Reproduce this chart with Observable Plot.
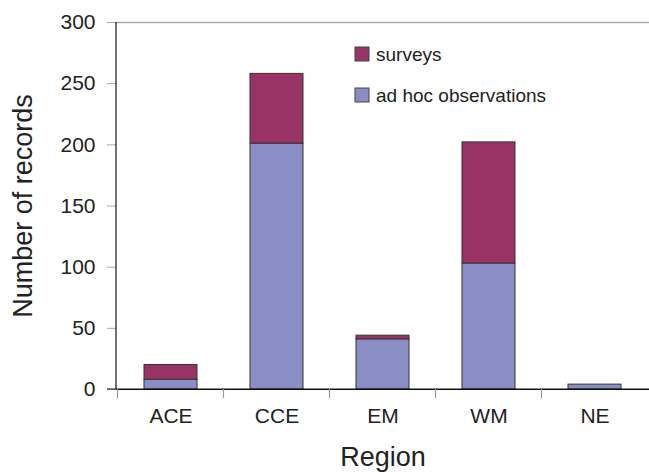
<!DOCTYPE html>
<html>
<head>
<meta charset="utf-8">
<script src="https://cdn.jsdelivr.net/npm/d3@7"></script>
<script src="https://cdn.jsdelivr.net/npm/@observablehq/plot@0.6"></script>
<style>
  html, body { margin: 0; padding: 0; background: #fff; }
  #chart svg { display: block; }
</style>
</head>
<body>
<div id="chart"></div>
<script>
const regions = ["ACE", "CCE", "EM", "WM", "NE"];
const series = ["ad hoc observations", "surveys"];
const adHoc = [8, 201, 41, 103, 4];
const surveys = [12, 57, 3, 99, 0];
const yTicks = [0, 50, 100, 150, 200, 250, 300];
const colors = ["#8b8ec5", "#993366"];
const xTitle = "Region";
const yTitle = "Number of records";

const data = [];
regions.forEach((r, i) => {
  data.push({region: r, series: series[0], value: adHoc[i]});
  if (surveys[i] > 0) data.push({region: r, series: series[1], value: surveys[i]});
});

const font = "Liberation Sans, Arial, Helvetica, sans-serif";
const W = 649, H = 472;

const chart = Plot.plot({
  width: W,
  height: H,
  marginLeft: 116,
  marginRight: 0,
  marginTop: 22,
  marginBottom: 83,
  style: {fontFamily: font, color: "#222", background: "#fff"},
  x: {domain: regions, paddingInner: 0.5, paddingOuter: 0.25, label: null},
  y: {domain: [0, 300], label: null},
  color: {domain: series, range: colors},
  marks: [
    Plot.ruleY([300], {stroke: "#aaa", strokeWidth: 1.5}),
    Plot.axisY({ticks: yTicks, tickSize: 9, stroke: "#aaa", tickFormat: () => "", label: null}),
    Plot.axisY({ticks: yTicks, tickSize: 0, tickPadding: 21, fontSize: 21, fill: "#222", label: null}),
    Plot.axisX({tickSize: 0, tickPadding: 19, fontSize: 21, fill: "#222", label: null}),
    Plot.barY(data, Plot.stackY({x: "region", y: "value", fill: "series", order: series, stroke: "#333", strokeWidth: 1})),
    Plot.ruleY([0], {stroke: "#111", strokeWidth: 1.2}),
    Plot.text([xTitle], {frameAnchor: "bottom", textAnchor: "middle", lineAnchor: "bottom", dy: 76, fontSize: 27, fill: "#222"}),
    Plot.text([yTitle], {frameAnchor: "left", textAnchor: "middle", rotate: -90, dx: -93, fontSize: 27, fill: "#222"})
  ]
});

const svg = d3.select(chart);
const xs = chart.scale("x");
const ys = chart.scale("y");
const y0 = ys.apply(0), yTop = ys.apply(300);
const x0 = xs.range[0], x1 = xs.range[1];
const gap = (xs.step - xs.bandwidth) / 2;

// y axis line
svg.append("line").attr("x1", x0).attr("x2", x0).attr("y1", yTop).attr("y2", y0)
  .attr("stroke", "#111").attr("stroke-width", 1.2);
// extend baseline to the left tick
svg.append("line").attr("x1", x0 - 9).attr("x2", x1).attr("y1", y0).attr("y2", y0)
  .attr("stroke", "#111").attr("stroke-width", 1.2);
// category boundary ticks
regions.forEach(r => {
  const bx = xs.apply(r) - gap;
  svg.append("line").attr("x1", bx).attr("x2", bx).attr("y1", y0).attr("y2", y0 + 9)
    .attr("stroke", "#999").attr("stroke-width", 1.2);
});

// legend
const legend = [{label: series[1], color: colors[1]}, {label: series[0], color: colors[0]}];
const lg = svg.append("g").attr("font-family", font).attr("font-size", 19)
  .attr("fill", "#222").attr("text-anchor", "start");
legend.forEach((d, i) => {
  const gy = 47 + i * 41;
  lg.append("rect").attr("x", 355).attr("y", gy).attr("width", 14).attr("height", 14)
    .attr("fill", d.color).attr("stroke", "#444").attr("stroke-width", 1);
  lg.append("text").attr("x", 376).attr("y", gy + 13.5).attr("text-anchor", "start").text(d.label);
});

document.getElementById("chart").appendChild(chart);
</script>
</body>
</html>
